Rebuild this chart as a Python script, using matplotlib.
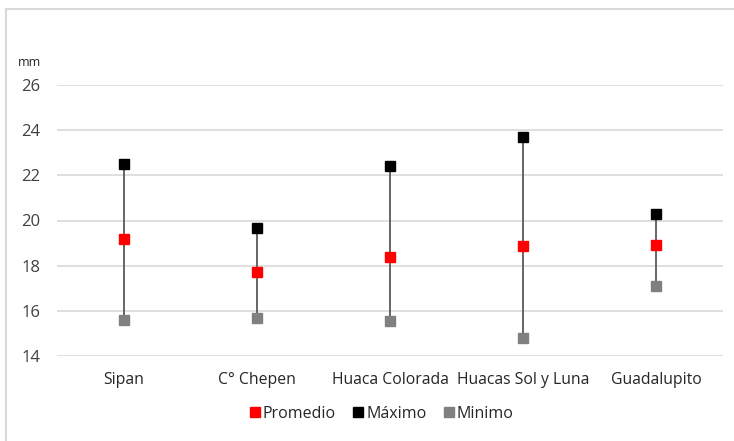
import matplotlib
matplotlib.use("Agg")
import matplotlib.pyplot as plt
from matplotlib.lines import Line2D

plt.rcParams['font.family'] = ['Open Sans', 'DejaVu Sans']

sites = ["Sipan", "C° Chepen", "Huaca Colorada", "Huacas Sol y Luna", "Guadalupito"]
promedio = [19.2, 17.7, 18.4, 18.85, 18.9]
maximo = [22.5, 19.65, 22.4, 23.7, 20.3]
minimo = [15.6, 15.7, 15.55, 14.8, 17.1]
yticks = [14, 16, 18, 20, 22, 24, 26]

W, H = 734, 441
fig = plt.figure(figsize=(W / 100, H / 100), dpi=100)
fig.patch.set_facecolor("white")

# light frame along the top and left edges
fig.add_artist(Line2D([5.5 / W, 5.5 / W], [0, 1 - 9 / H], transform=fig.transFigure,
                      color="#d9d9d9", lw=1.5))
fig.add_artist(Line2D([5.5 / W, 1], [1 - 9 / H, 1 - 9 / H], transform=fig.transFigure,
                      color="#d9d9d9", lw=1.5))

left, right = 57 / W, 723 / W
bottom, top = 1 - 356 / H, 1 - 85 / H
ax = fig.add_axes([left, bottom, right - left, top - bottom])

x = list(range(len(sites)))
ax.vlines(x, minimo, maximo, color="#595959", lw=1.3, zorder=2)
ms = 7.2
ax.plot(x, promedio, ls="none", marker="s", ms=ms, color="#ff0000", mec="#ff0000", zorder=3)
ax.plot(x, maximo, ls="none", marker="s", ms=ms, color="#000000", mec="#000000", zorder=3)
ax.plot(x, minimo, ls="none", marker="s", ms=ms, color="#808080", mec="#808080", zorder=3)

ax.set_xlim(-0.5, len(sites) - 0.5)
ax.set_ylim(14, 26)
ax.set_yticks(yticks)
ax.set_xticks(x)
ax.set_xticklabels(sites)
ax.grid(axis="y", color="#d9d9d9", lw=1.2)
ax.set_axisbelow(True)
for s in ax.spines.values():
    s.set_visible(False)
ax.tick_params(axis="both", length=0)
ax.tick_params(axis="y", pad=12, labelsize=12, labelcolor="#404040")
ax.tick_params(axis="x", pad=11.5, labelsize=11.3, labelcolor="#262626")

fig.text(18 / W, 1 - 63 / H, "mm", fontsize=9, color="#262626", va="center", ha="left")

handles = [
    Line2D([], [], ls="none", marker="s", ms=7, color="#ff0000", label="Promedio"),
    Line2D([], [], ls="none", marker="s", ms=7, color="#000000", label="Máximo"),
    Line2D([], [], ls="none", marker="s", ms=7, color="#808080", label="Minimo"),
]
fig.legend(handles=handles, loc="center", bbox_to_anchor=(382 / W, 1 - 414 / H), ncol=3,
           frameon=False, fontsize=11.5, handlelength=0.6, handletextpad=0.2,
           columnspacing=1.1, labelcolor="#262626")

fig.savefig("out.png", dpi=100, facecolor="white")
